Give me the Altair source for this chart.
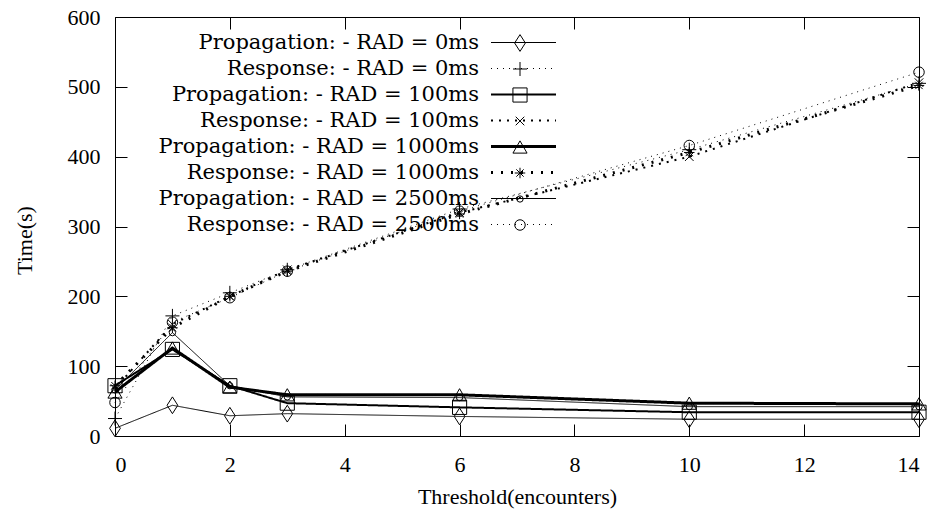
import altair as alt
import pandas as pd

# ---- data ----
x_vals = [0, 1, 2, 3, 6, 10, 14]
series_names = [
    "Propagation: - RAD = 0ms",
    "Response: - RAD = 0ms",
    "Propagation: - RAD = 100ms",
    "Response: - RAD = 100ms",
    "Propagation: - RAD = 1000ms",
    "Response: - RAD = 1000ms",
    "Propagation: - RAD = 2500ms",
    "Response: - RAD = 2500ms",
]
marker_ids = ["P0", "R0", "P100", "R100", "P1000", "R1000", "P2500", "R2500"]
prop_0 = [11, 44, 29, 32, 28, 24, 24]
resp_0 = [25, 172, 205, 238, 325, 410, 505]
prop_100 = [72, 124, 72, 47, 41, 34, 34]
resp_100 = [68, 160, 200, 238, 320, 400, 506]
prop_1000 = [63, 126, 70, 59, 59, 47, 46]
resp_1000 = [72, 155, 200, 236, 318, 406, 502]
prop_2500 = [66, 148, 72, 56, 55, 42, 42]
resp_2500 = [48, 163, 198, 236, 322, 416, 521]
all_values = [prop_0, resp_0, prop_100, resp_100, prop_1000, resp_1000, prop_2500, resp_2500]

x_ticks = [0, 2, 4, 6, 8, 10, 12, 14]
y_ticks = [0, 100, 200, 300, 400, 500, 600]

# ---- styles ----
dashes = [[1, 0], [1, 5], [1, 0], [2, 6], [1, 0], [2, 8], [1, 0], [1, 5]]
widths = [1, 1, 2, 2, 3, 3, 1, 1]
shapes = [
    "M0,-1.25L0.8,0L0,1.25L-0.8,0Z",
    "M-1,0H1M0,-1V1",
    "square",
    "M-0.7,-0.7L0.7,0.7M-0.7,0.7L0.7,-0.7",
    "triangle-up",
    "M-1,0H1M0,-1V1M-0.7,-0.7L0.7,0.7M-0.7,0.7L0.7,-0.7",
    "circle",
    "circle",
]
sizes = [180, 196, 200, 150, 200, 110, 40, 110]

rows = []
for name, mid, vals in zip(series_names, marker_ids, all_values):
    for xv, yv in zip(x_vals, vals):
        rows.append({"x": xv, "y": yv, "series": name, "series_m": mid})
df = pd.DataFrame(rows)

FONT = "Liberation Serif"
LFONT = "DejaVu Serif"

xscale = alt.Scale(domain=[0, 14], nice=False, zero=False)
yscale = alt.Scale(domain=[0, 600], nice=False)

stroke_legend = alt.Legend(
    orient="none", legendX=398, legendY=15, title=None,
    symbolType="M-5,0H5", symbolSize=169, symbolStrokeColor="black",
    symbolFillColor="transparent",
    labelAlign="right", labelOffset={"expr": "-55"}, labelLimit=1000,
    labelFont=LFONT, labelFontSize=21, labelColor="black",
    rowPadding=4, padding=0,
)
shape_legend = alt.Legend(
    orient="none", legendX=397, legendY=13, title=None,
    symbolStrokeColor="black", symbolFillColor="transparent",
    symbolStrokeWidth=1, symbolOpacity=1,
    labelOpacity=0, labelFontSize=1,
    clipHeight=26, rowPadding=0, padding=0,
)

lines = alt.Chart(df).mark_line(color="black").encode(
    x=alt.X("x:Q", scale=xscale, axis=alt.Axis(
        orient="bottom", values=x_ticks, format="d", title="Threshold(encounters)",
        offset=-12, tickSize=12, domain=False, grid=False, labelPadding=18,
        titleY=72, titleBaseline="middle")),
    y=alt.Y("y:Q", scale=yscale, axis=alt.Axis(
        orient="left", values=y_ticks, format="d", title="Time(s)",
        offset=-12, tickSize=12, domain=False, grid=False, labelPadding=15,
        titleX=-103, titleY=223, titleBaseline="middle", titleAlign="center", titleAngle=270)),
    strokeDash=alt.StrokeDash("series:N", scale=alt.Scale(domain=series_names, range=dashes),
                              legend=stroke_legend),
    strokeWidth=alt.StrokeWidth("series:N", scale=alt.Scale(type="ordinal", domain=series_names, range=widths),
                                legend=stroke_legend),
)

points = alt.Chart(df).mark_point(filled=False, color="black", strokeWidth=1, opacity=1).encode(
    x=alt.X("x:Q", scale=xscale, axis=alt.Axis(
        orient="top", values=x_ticks, labels=False, title="",
        offset=-12, tickSize=12, domain=False, grid=False)),
    y=alt.Y("y:Q", scale=yscale, axis=alt.Axis(
        orient="right", values=y_ticks, labels=False, title="",
        offset=-12, tickSize=12, domain=False, grid=False)),
    shape=alt.Shape("series_m:N", scale=alt.Scale(domain=marker_ids, range=shapes),
                    legend=shape_legend),
    size=alt.Size("series_m:N", scale=alt.Scale(type="ordinal", domain=marker_ids, range=sizes),
                  legend=shape_legend),
)

chart = alt.layer(lines, points).properties(
    width=804, height=419,
    background="white",
    autosize=alt.AutoSizeParams(type="none"),
    padding={"left": 115, "top": 17, "right": 21, "bottom": 83},
).configure_view(
    stroke="black", strokeWidth=1
).configure_axis(
    labelFont=FONT, labelFontSize=22, labelColor="black",
    titleFont=FONT, titleFontSize=22, titleFontWeight="normal", titleColor="black",
    tickColor="black", tickWidth=1,
)

chart.save("out.html", embed_options={"renderer": "svg", "actions": False})
